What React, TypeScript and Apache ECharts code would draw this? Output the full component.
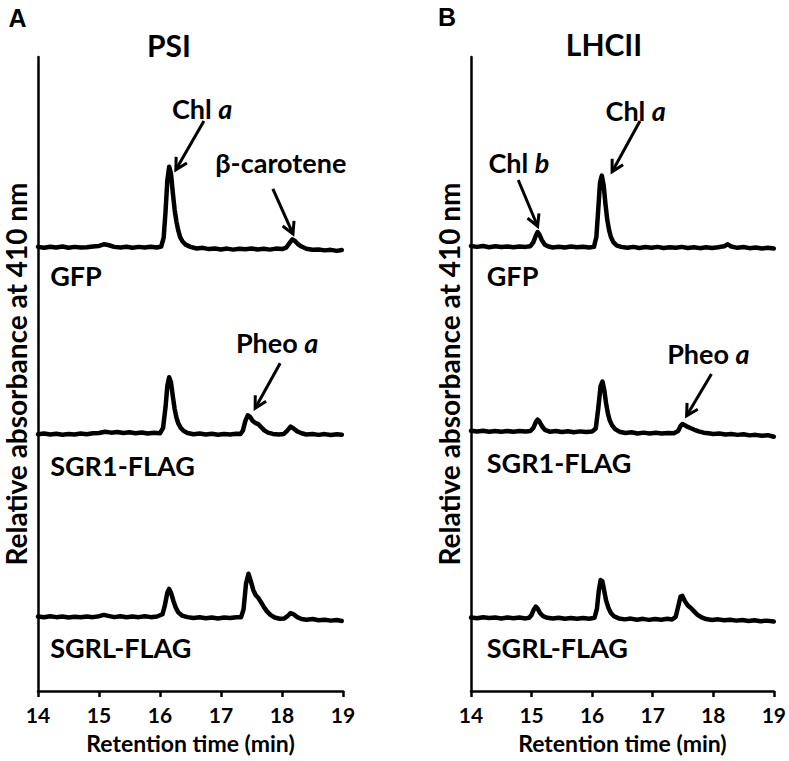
import React, { useEffect, useRef } from "react";
import * as echarts from "echarts";

// ---------- data ----------
const xTicks = [14, 15, 16, 17, 18, 19];
const panelLetters = ["A", "B"];
const panelTitles = ["PSI", "LHCII"];
const samples = ["GFP", "SGR1-FLAG", "SGRL-FLAG"];

// vertical offsets (relative absorbance units) of the stacked traces
const offsetsA = [70, 40.5, 11.7];
const offsetsB = [70, 40.9, 11.5];

// Panel A (PSI) traces: [retention time (min), relative absorbance]
const psiGFP: number[][] = [
  [14.0, 0.05], [14.1, -0.1], [14.2, 0.08], [14.3, -0.05], [14.4, 0.1], [14.5, -0.08], [14.6, 0.05], [14.7, -0.05],
  [14.8, 0.0], [14.9, 0.12], [15.0, 0.2], [15.08, 0.45], [15.15, 0.35], [15.25, 0.05], [15.35, -0.05], [15.45, 0.08],
  [15.55, -0.1], [15.65, 0.05], [15.75, -0.05], [15.85, 0.08], [15.95, -0.05], [16.02, 0.1], [16.06, 1.5], [16.09, 5.5],
  [16.12, 10.5], [16.15, 12.7], [16.18, 11.6], [16.21, 8.6], [16.24, 5.9], [16.27, 4.0], [16.3, 2.6], [16.33, 1.6],
  [16.37, 0.9], [16.42, 0.4], [16.5, 0.05], [16.6, -0.2], [16.7, -0.1], [16.8, -0.3], [16.9, -0.2], [17.0, -0.35],
  [17.1, -0.22], [17.2, -0.38], [17.3, -0.25], [17.4, -0.32], [17.5, -0.2], [17.6, -0.35], [17.7, -0.25], [17.8, -0.38],
  [17.9, -0.22], [18.0, -0.3], [18.07, -0.05], [18.12, 0.6], [18.17, 1.25], [18.21, 1.0], [18.26, 0.5], [18.32, 0.1],
  [18.4, -0.25], [18.5, -0.4], [18.6, -0.35], [18.7, -0.5], [18.8, -0.42], [18.9, -0.58], [18.98, -0.45],
];
const psiSGR1: number[][] = [
  [14.0, 0.0], [14.1, 0.12], [14.2, -0.05], [14.3, 0.08], [14.4, -0.08], [14.5, 0.05], [14.6, -0.05], [14.7, 0.1],
  [14.8, 0.0], [14.9, 0.15], [15.0, 0.2], [15.1, 0.4], [15.2, 0.25], [15.3, 0.35], [15.4, 0.2], [15.5, 0.3],
  [15.6, 0.15], [15.7, 0.28], [15.8, 0.12], [15.9, 0.22], [16.0, 0.15], [16.05, 1.0], [16.09, 4.2], [16.12, 7.6],
  [16.15, 9.0], [16.18, 8.2], [16.21, 6.0], [16.24, 4.0], [16.27, 2.6], [16.3, 1.7], [16.34, 1.0], [16.39, 0.5],
  [16.45, 0.2], [16.55, 0.0], [16.65, 0.1], [16.75, -0.05], [16.85, 0.08], [16.95, -0.08], [17.05, 0.05], [17.15, -0.05],
  [17.25, 0.08], [17.32, 0.05], [17.36, 0.6], [17.4, 2.1], [17.44, 3.0], [17.48, 2.7], [17.52, 2.1], [17.56, 1.8],
  [17.61, 1.6], [17.66, 1.1], [17.71, 0.6], [17.77, 0.25], [17.85, 0.05], [17.95, -0.05], [18.03, 0.05], [18.08, 0.5],
  [18.14, 1.2], [18.19, 0.9], [18.25, 0.45], [18.32, 0.15], [18.4, -0.05], [18.5, 0.05], [18.6, -0.1], [18.7, 0.02],
  [18.8, -0.12], [18.9, 0.0], [18.98, -0.08],
];
const psiSGRL: number[][] = [
  [14.0, 0.05], [14.1, -0.08], [14.2, 0.08], [14.3, -0.05], [14.4, 0.05], [14.5, -0.1], [14.6, 0.02], [14.7, -0.08],
  [14.8, 0.05], [14.9, -0.05], [15.0, 0.1], [15.08, 0.3], [15.15, 0.15], [15.25, -0.05], [15.35, 0.08], [15.45, -0.08],
  [15.55, 0.05], [15.65, -0.05], [15.75, 0.08], [15.85, -0.05], [15.95, 0.05], [16.04, 0.4], [16.08, 1.8], [16.12, 3.8],
  [16.15, 4.4], [16.18, 3.8], [16.22, 2.5], [16.26, 1.4], [16.3, 0.7], [16.36, 0.2], [16.45, -0.05], [16.55, -0.2],
  [16.65, -0.08], [16.75, -0.22], [16.85, -0.1], [16.95, -0.25], [17.05, -0.12], [17.15, -0.2], [17.25, -0.08], [17.33, -0.05],
  [17.37, 1.2], [17.41, 5.2], [17.45, 6.8], [17.49, 5.6], [17.53, 4.2], [17.57, 3.4], [17.61, 3.0], [17.65, 2.4],
  [17.7, 1.6], [17.75, 0.9], [17.81, 0.3], [17.88, -0.1], [17.96, -0.3], [18.04, -0.25], [18.09, 0.1], [18.14, 0.6],
  [18.19, 0.4], [18.25, -0.05], [18.32, -0.35], [18.4, -0.45], [18.5, -0.35], [18.6, -0.55], [18.7, -0.45], [18.8, -0.6],
  [18.9, -0.5], [18.98, -0.65],
];

// Panel B (LHCII) traces
const lhcGFP: number[][] = [
  [14.0, 0.2], [14.1, 0.05], [14.2, 0.18], [14.3, 0.0], [14.4, 0.15], [14.5, 0.02], [14.6, 0.12], [14.7, -0.02],
  [14.8, 0.1], [14.9, 0.05], [14.98, 0.15], [15.03, 0.8], [15.07, 1.8], [15.1, 2.4], [15.13, 2.0], [15.17, 1.1],
  [15.22, 0.4], [15.28, 0.1], [15.35, -0.05], [15.45, 0.08], [15.55, -0.05], [15.65, 0.1], [15.75, -0.02], [15.85, 0.08],
  [15.95, -0.05], [16.03, 0.05], [16.07, 1.6], [16.1, 5.8], [16.13, 10.2], [16.16, 11.3], [16.19, 9.8], [16.22, 6.8],
  [16.25, 4.3], [16.28, 2.7], [16.31, 1.6], [16.35, 0.8], [16.4, 0.3], [16.48, 0.05], [16.58, -0.1], [16.68, 0.05],
  [16.78, -0.12], [16.88, 0.02], [16.98, -0.1], [17.08, 0.05], [17.18, -0.12], [17.28, 0.0], [17.38, -0.1], [17.48, 0.05],
  [17.58, -0.12], [17.68, 0.0], [17.78, -0.15], [17.88, -0.02], [17.98, -0.12], [18.08, 0.0], [18.18, 0.15], [18.24, 0.45],
  [18.3, 0.1], [18.4, -0.1], [18.5, 0.02], [18.6, -0.15], [18.7, -0.05], [18.8, -0.2], [18.9, -0.08], [19.0, -0.2],
];
const lhcSGR1: number[][] = [
  [14.0, 0.15], [14.1, 0.02], [14.2, 0.15], [14.3, 0.0], [14.4, 0.12], [14.5, -0.02], [14.6, 0.1], [14.7, 0.0],
  [14.8, 0.12], [14.9, 0.02], [14.98, 0.1], [15.03, 0.6], [15.07, 1.5], [15.1, 1.9], [15.13, 1.6], [15.17, 0.9],
  [15.22, 0.3], [15.3, 0.0], [15.4, 0.1], [15.5, -0.05], [15.6, 0.08], [15.7, -0.08], [15.8, 0.05], [15.9, -0.05],
  [16.0, 0.02], [16.06, 0.5], [16.1, 3.6], [16.14, 7.2], [16.17, 7.9], [16.2, 6.6], [16.23, 4.5], [16.26, 2.9],
  [16.29, 1.8], [16.33, 1.0], [16.38, 0.4], [16.45, 0.0], [16.55, -0.2], [16.65, -0.1], [16.75, -0.28], [16.85, -0.15],
  [16.95, -0.3], [17.05, -0.18], [17.15, -0.3], [17.25, -0.2], [17.35, -0.25], [17.42, 0.1], [17.46, 0.9], [17.49, 1.2],
  [17.53, 1.0], [17.58, 0.75], [17.63, 0.55], [17.69, 0.3], [17.76, 0.05], [17.84, -0.15], [17.92, -0.25], [18.0, -0.35],
  [18.1, -0.28], [18.2, -0.45], [18.3, -0.35], [18.4, -0.5], [18.5, -0.4], [18.6, -0.58], [18.7, -0.5], [18.8, -0.65],
  [18.9, -0.55], [19.0, -0.8],
];
const lhcSGRL: number[][] = [
  [14.0, 0.1], [14.1, -0.02], [14.2, 0.12], [14.3, 0.0], [14.4, 0.08], [14.5, -0.05], [14.6, 0.1], [14.7, -0.02],
  [14.8, 0.08], [14.9, -0.05], [14.96, 0.05], [15.0, 0.5], [15.04, 1.4], [15.07, 1.8], [15.1, 1.5], [15.14, 0.8],
  [15.19, 0.3], [15.26, 0.05], [15.35, -0.08], [15.45, 0.05], [15.55, -0.1], [15.65, 0.02], [15.75, -0.12], [15.85, 0.0],
  [15.95, -0.1], [16.04, 0.05], [16.08, 1.5], [16.11, 4.3], [16.14, 6.0], [16.17, 5.8], [16.2, 4.3], [16.23, 2.8],
  [16.27, 1.6], [16.31, 0.8], [16.36, 0.3], [16.44, -0.05], [16.54, -0.2], [16.64, -0.08], [16.74, -0.25], [16.84, -0.12],
  [16.94, -0.28], [17.04, -0.15], [17.14, -0.25], [17.24, -0.12], [17.32, -0.22], [17.38, 0.2], [17.42, 1.8], [17.46, 3.4],
  [17.49, 3.5], [17.53, 2.7], [17.58, 2.0], [17.63, 1.6], [17.68, 1.1], [17.73, 0.6], [17.8, 0.15], [17.88, -0.15],
  [17.98, -0.3], [18.08, -0.2], [18.18, -0.35], [18.28, -0.25], [18.38, -0.4], [18.48, -0.3], [18.58, -0.45], [18.68, -0.35],
  [18.78, -0.5], [18.88, -0.4], [19.0, -0.55],
];

// sample label anchors (left edge time, centre value) per panel
const labelPosA = [[14.2, 65.5], [14.2, 35.6], [14.2, 6.9]];
const labelPosB = [[14.26, 65.5], [14.26, 36.0], [14.26, 6.8]];

// peak annotations: text, text centre, arrow start, arrow tip (data coords)
type Ann = { text: string; at: number[]; from: number[]; to: number[] };
const annotationsA: Ann[] = [
  { text: "{r|Chl }{i|a}", at: [16.69, 91.8], from: [16.72, 89.9], to: [16.26, 82.2] },
  { text: "{r|β-carotene}", at: [17.98, 83.4], from: [17.85, 79.2], to: [18.18, 72.1] },
  { text: "{r|Pheo }{i|a}", at: [17.92, 54.9], from: [17.97, 51.7], to: [17.56, 44.6] },
];
const annotationsB: Ann[] = [
  { text: "{r|Chl }{i|b}", at: [14.79, 83.4], from: [14.78, 80.6], to: [15.1, 73.3] },
  { text: "{r|Chl }{i|a}", at: [16.72, 91.6], from: [16.79, 89.9], to: [16.33, 81.9] },
  { text: "{r|Pheo }{i|a}", at: [17.92, 53.3], from: [17.97, 50.0], to: [17.56, 43.4] },
];

// ---------- style ----------
const FONT = "Lato";
const BLACK = "#000";
const traceWidth = 4.5;
const axisWidth = 2.5;
const annFontSize = 27;

const panels = [
  { traces: [psiGFP, psiSGR1, psiSGRL], offsets: offsetsA, labels: labelPosA, ann: annotationsA, left: 38 },
  { traces: [lhcGFP, lhcSGR1, lhcSGRL], offsets: offsetsB, labels: labelPosB, ann: annotationsB, left: 471 },
];

export default function App() {
  const ref = useRef<HTMLDivElement>(null);
  useEffect(() => {
    if (!ref.current) return;
    const chart = echarts.init(ref.current, null, { renderer: "svg" });
    const grids = panels.map((p) => ({ left: p.left, width: 305, top: 57, height: 634 }));
    const xAxes = panels.map((_, i) => ({
      type: "value",
      gridIndex: i,
      min: xTicks[0],
      max: xTicks[xTicks.length - 1],
      interval: 1,
      name: "Retention time (min)",
      nameLocation: "middle",
      nameGap: 40,
      nameTextStyle: { fontFamily: FONT, fontWeight: "bold", fontSize: 23, color: BLACK },
      axisLine: { show: true, onZero: false, lineStyle: { color: BLACK, width: axisWidth } },
      axisTick: { show: true, inside: false, length: 6, lineStyle: { color: BLACK, width: axisWidth } },
      axisLabel: { fontFamily: FONT, fontWeight: "bold", fontSize: 21, color: BLACK, margin: 13 },
      splitLine: { show: false },
    }));
    const yAxes = panels.map((_, i) => ({
      type: "value",
      gridIndex: i,
      min: 0,
      max: 100,
      name: "Relative absorbance at 410 nm",
      nameLocation: "middle",
      nameRotate: 90,
      nameGap: 8,
      nameTextStyle: { fontFamily: FONT, fontWeight: "bold", fontSize: 28, lineHeight: 28, color: BLACK },
      axisLine: { show: true, lineStyle: { color: BLACK, width: axisWidth } },
      axisTick: { show: false },
      axisLabel: { show: false },
      splitLine: { show: false },
    }));
    const series: any[] = [];
    panels.forEach((p, pi) => {
      p.traces.forEach((tr, si) => {
        series.push({
          type: "line",
          name: `${panelTitles[pi]} ${samples[si]}`,
          xAxisIndex: pi,
          yAxisIndex: pi,
          showSymbol: false,
          symbol: "none",
          data: tr.map(([t, v]) => [t, v + p.offsets[si]]),
          lineStyle: { color: BLACK, width: traceWidth, join: "round", cap: "round" },
          z: 3,
        });
      });
    });
    chart.setOption({
      animation: false,
      backgroundColor: "#fff",
      grid: grids,
      xAxis: xAxes,
      yAxis: yAxes,
      series,
    });

    const g: any[] = [];
    const headFont = { fontFamily: FONT, fontWeight: "bold", fill: BLACK };
    // panel letters and titles
    g.push({ type: "text", x: 17.5, y: 17.5, style: { text: panelLetters[0], fontFamily: "Liberation Sans", fontWeight: "bold", fontSize: 25, fill: BLACK, align: "center", verticalAlign: "middle" } });
    g.push({ type: "text", x: 447, y: 16.5, style: { text: panelLetters[1], fontFamily: "Liberation Sans", fontWeight: "bold", fontSize: 25, fill: BLACK, align: "center", verticalAlign: "middle" } });
    g.push({ type: "text", x: 169, y: 45, style: { ...headFont, text: panelTitles[0], fontSize: 30, align: "center", verticalAlign: "middle" } });
    g.push({ type: "text", x: 604, y: 44, style: { ...headFont, text: panelTitles[1], fontSize: 30, align: "center", verticalAlign: "middle" } });

    panels.forEach((p, pi) => {
      p.labels.forEach((pos, si) => {
        const [x, y] = chart.convertToPixel({ gridIndex: pi } as any, pos) as number[];
        g.push({ type: "text", x, y, style: { ...headFont, text: samples[si], fontSize: 27, align: "left", verticalAlign: "middle" } });
      });
      p.ann.forEach((a) => {
        const [tx, ty] = chart.convertToPixel({ gridIndex: pi } as any, a.at) as number[];
        g.push({
          type: "text",
          x: tx,
          y: ty,
          style: {
            text: a.text,
            align: "center",
            verticalAlign: "middle",
            rich: {
              r: { fontFamily: FONT, fontWeight: "bold", fontSize: annFontSize, fill: BLACK, color: BLACK },
              i: { fontFamily: FONT, fontWeight: "bold", fontStyle: "italic", fontSize: annFontSize, fill: BLACK, color: BLACK },
            },
          },
        });
        const [x1, y1] = chart.convertToPixel({ gridIndex: pi } as any, a.from) as number[];
        const [x2, y2] = chart.convertToPixel({ gridIndex: pi } as any, a.to) as number[];
        const ang = Math.atan2(y2 - y1, x2 - x1);
        const len = 13;
        const spread = 0.5;
        const h1 = [x2 - len * Math.cos(ang - spread), y2 - len * Math.sin(ang - spread)];
        const h2 = [x2 - len * Math.cos(ang + spread), y2 - len * Math.sin(ang + spread)];
        g.push({ type: "line", shape: { x1, y1, x2, y2 }, style: { stroke: BLACK, lineWidth: 3 } });
        g.push({ type: "polyline", shape: { points: [h1, [x2, y2], h2] }, style: { stroke: BLACK, lineWidth: 3, fill: null, lineJoin: "miter" } });
      });
    });
    chart.setOption({ graphic: g });
    return () => chart.dispose();
  }, []);
  return <div ref={ref} style={{ position: "absolute", left: 0, top: 0, width: 789, height: 761, background: "#fff" }} />;
}
